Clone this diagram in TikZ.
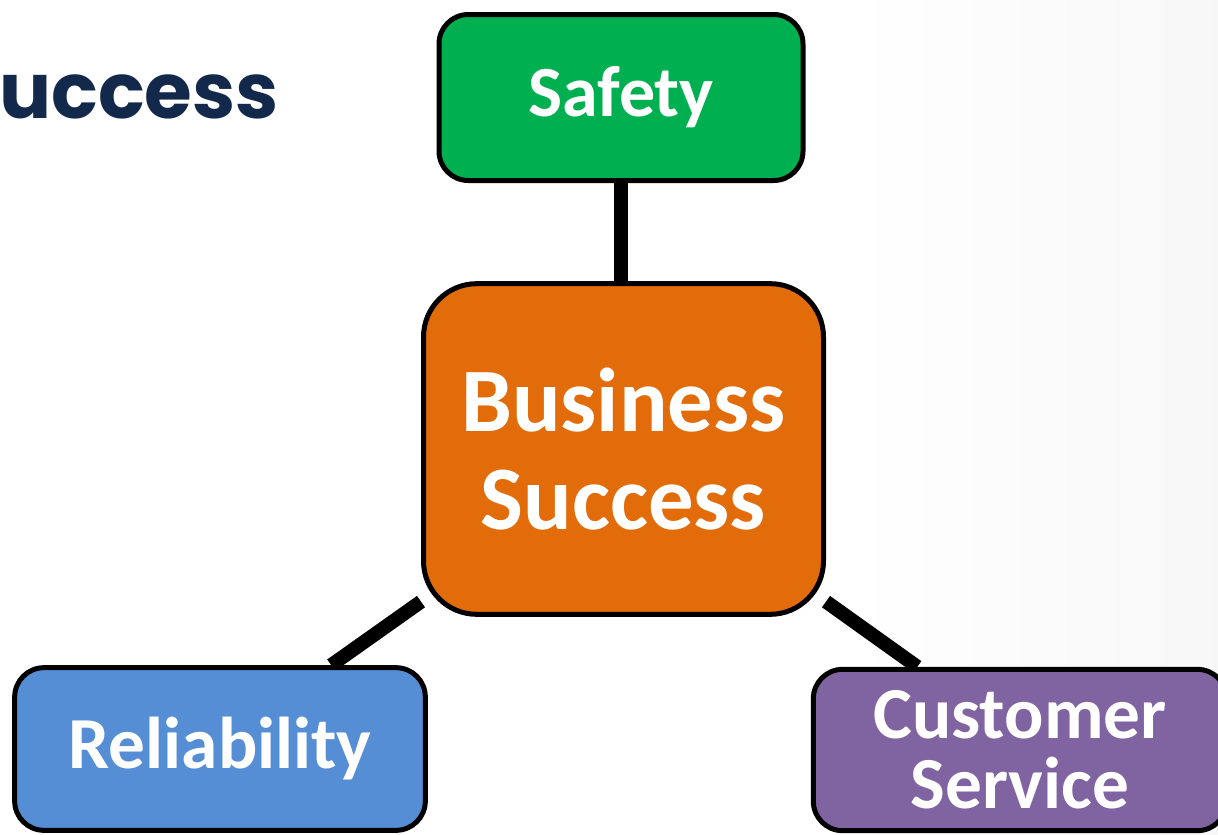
\documentclass[tikz,border=0pt]{standalone}
\usepackage{fontspec}
\setmainfont{Carlito}
\newfontfamily\titlefont{Poppins}
\definecolor{safetygreen}{HTML}{00B050}
\definecolor{bizorange}{HTML}{E36C0A}
\definecolor{relblue}{HTML}{558ED5}
\definecolor{cspurple}{HTML}{8064A2}
\definecolor{navy}{HTML}{13294B}
\pgfdeclarelayer{back}
\pgfdeclarelayer{lines}
\pgfsetlayers{back,lines,main}
\tikzset{
  box/.style={draw=black, line width=3.75pt, rounded corners=22pt, inner sep=0pt,
    text=white, font=\bfseries\fontsize{55}{52.5}\selectfont, align=center},
  link/.style={line width=10.5pt, draw=black}
}
\begin{document}
\begin{tikzpicture}[x=0.75pt,y=-0.75pt]
\useasboundingbox (0,0) rectangle (1218,835);
\begin{pgfonlayer}{back}
  \fill[white] (0,0) rectangle (1218,835);
  \shade[left color=white, right color=black!3] (850,0) rectangle (1218,835);
\end{pgfonlayer}
\node[anchor=west, text=navy, font=\titlefont\bfseries\fontsize{58}{58}\selectfont, inner sep=0pt] (title) at (-1,97) {uccess};
\node[box, fill=safetygreen, minimum width=273pt, minimum height=124.5pt, font=\bfseries\fontsize{54}{54}\selectfont] (safety) at (621,97.5) {Safety};
\node[box, fill=bizorange, minimum width=300pt, minimum height=248pt, rounded corners=40pt, font=\bfseries\fontsize{68}{73}\selectfont] (biz) at (623.5,449) {Business\\Success};
\node[box, fill=relblue, minimum width=308pt, minimum height=122pt] (rel) at (220,749) {Reliability};
\node[box, fill=cspurple, minimum width=310pt, minimum height=121pt] (cs) at (1020,750) {Customer\\Service};
\begin{pgfonlayer}{lines}
  \draw[link] (safety.south) -- (safety.south |- biz.north);
  \draw[link] (biz.217.5) -- (rel.37);
  \draw[link] (biz.-37) -- (cs.141.7);
\end{pgfonlayer}
\end{tikzpicture}
\end{document}
